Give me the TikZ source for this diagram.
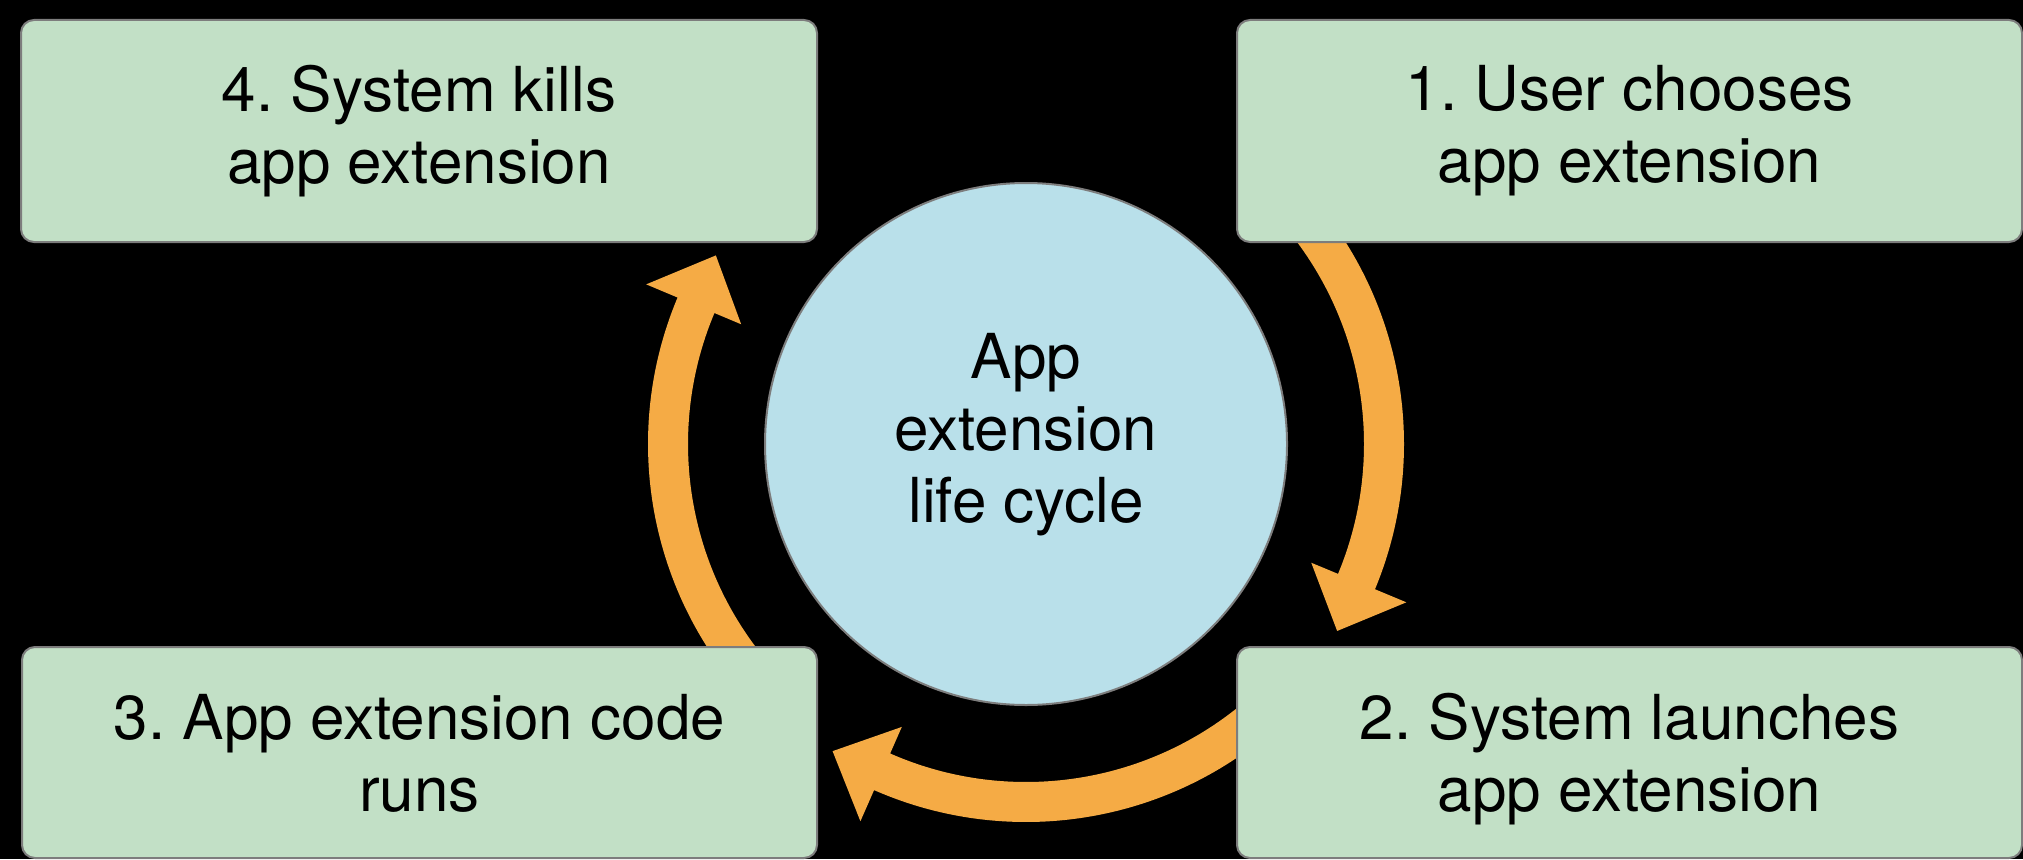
\documentclass[tikz,border=0pt]{standalone}
\usepackage{fontspec}
\setmainfont{TeX Gyre Heros}
\usetikzlibrary{calc}
\definecolor{boxgreen}{RGB}{194,224,198}
\definecolor{circblue}{RGB}{185,224,234}
\definecolor{arroworange}{RGB}{245,171,69}
\definecolor{edgegray}{RGB}{125,125,125}
\frenchspacing
\begin{document}
\begin{tikzpicture}[x=0.5pt,y=0.5pt,
  stepbox/.style={draw=edgegray,line width=1pt,fill=boxgreen,rounded corners=6.5pt,
    align=center,inner sep=0pt,font=\fontsize{31pt}{36pt}\selectfont},
  lowbox/.style={stepbox,text depth=0pt},
  hub/.style={circle,draw=edgegray,line width=1pt,fill=circblue,minimum size=261pt,
    inner sep=0pt,align=center,text depth=16.5pt,font=\fontsize{31pt}{36pt}\selectfont},
  flow/.style={fill=arroworange}]
\fill[black] (0,0) rectangle (2023,859);
\useasboundingbox (0,0) rectangle (2023,859);
\coordinate (C) at (1026,415);
% arrows (drawn beneath the boxes)
\fill[flow] ($(C)+(45:378)$) arc[start angle=45,end angle=-22.6,radius=378]
  -- ($(C)+(-22.6:412)$) -- ($(C)+(-31:363)$) -- ($(C)+(-22.6:309)$)
  -- ($(C)+(-22.6:338)$) arc[start angle=-22.6,end angle=45,radius=338] -- cycle;
\fill[flow] ($(C)+(-45:378)$) arc[start angle=-45,end angle=-113.7,radius=378]
  -- ($(C)+(-113.7:412)$) -- ($(C)+(-122.2:363)$) -- ($(C)+(-113.7:309)$)
  -- ($(C)+(-113.7:338)$) arc[start angle=-113.7,end angle=-45,radius=338] -- cycle;
\fill[flow] ($(C)+(-135:378)$) arc[start angle=-135,end angle=-202.8,radius=378]
  -- ($(C)+(-202.8:412)$) -- ($(C)+(-211.3:363)$) -- ($(C)+(-202.8:309)$)
  -- ($(C)+(-202.8:338)$) arc[start angle=-202.8,end angle=-135,radius=338] -- cycle;
% boxes
\node[stepbox,minimum width=398pt,minimum height=111pt] (s4) at (419,728) {4. System kills\\app extension};
\node[stepbox,minimum width=392.5pt,minimum height=111pt] (s1) at (1629.5,728) {1. User chooses\\app extension};
\node[lowbox,minimum width=397.5pt,minimum height=105.5pt] (s3) at (419.5,106.5) {3. App extension code\\runs};
\node[lowbox,minimum width=392.5pt,minimum height=105.5pt] (s2) at (1629.5,106.5) {2. System launches\\app extension};
% centre
\node[hub] (hub) at (C) {App\\extension\\life cycle};
\end{tikzpicture}
\end{document}
